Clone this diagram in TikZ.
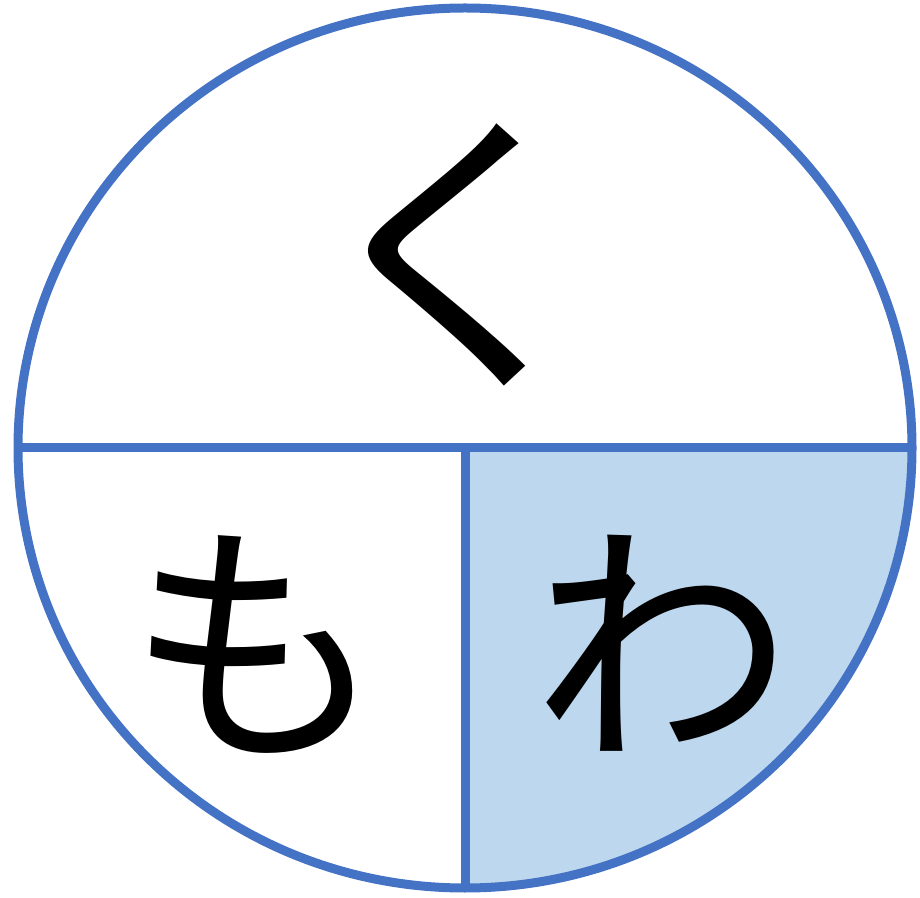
\documentclass[tikz,border=0pt]{standalone}
\usepackage{fontspec}
\newfontfamily\jpfont{Noto Sans CJK JP}
\definecolor{ringblue}{RGB}{68, 114, 196}
\definecolor{quarterfill}{RGB}{189, 215, 238}

\begin{document}
\begin{tikzpicture}[x=1pt, y=1pt, line width=9pt]
    % Dimensions
    \def\rx{447}  % horizontal radius
    \def\ry{440}  % vertical radius

    \useasboundingbox (0,0) rectangle (920,897);

    \coordinate (C) at (465,449);
    \coordinate (E) at (465+\rx,449);
    \coordinate (W) at (465-\rx,449);
    \coordinate (S) at (465,449-\ry);

    % 1. Shaded quarter
    \fill[quarterfill] (C) -- (E) arc[start angle=0, end angle=-90, x radius=\rx, y radius=\ry] -- cycle;

    % 2. Outline and dividers
    \draw[ringblue] (C) ellipse[x radius=\rx, y radius=\ry];
    \draw[ringblue] (W) -- (E);
    \draw[ringblue] (C) -- (S);

    % 3. Kana
    \node[font=\jpfont\fontsize{302}{302}\selectfont] (ku) at (457,642) {く};
    \node[font=\jpfont\fontsize{260}{260}\selectfont] (mo) at (256,252) {も};
    \node[font=\jpfont\fontsize{260}{260}\selectfont] (wa) at (662,254) {わ};
\end{tikzpicture}
\end{document}
